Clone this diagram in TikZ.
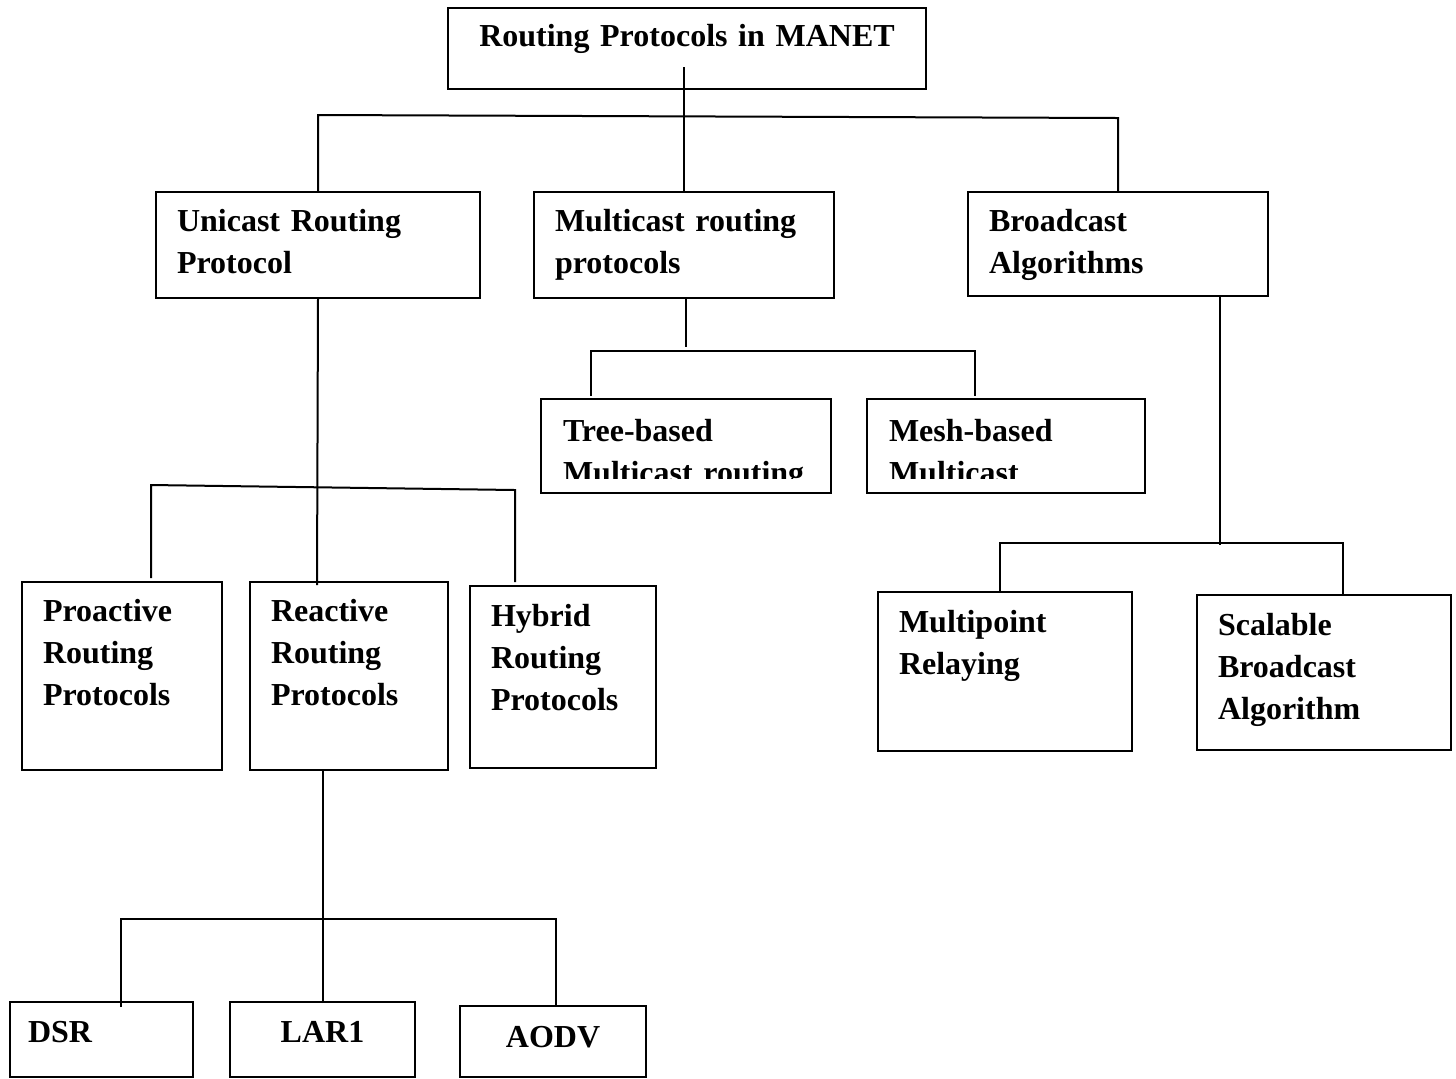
\documentclass[tikz,border=0pt]{standalone}
\usepackage{fontspec}
\setmainfont{Liberation Serif}
\usepackage{tikz}
\usetikzlibrary{calc}

\begin{document}
\begin{tikzpicture}[x=0.5pt,y=-0.5pt,
	box/.style={draw, line width=1pt, anchor=north west, inner xsep=10.5pt, inner ysep=0pt,
		align=left, text height=19.5pt, font=\fontsize{16}{21}\selectfont\bfseries},
	link/.style={line width=1pt}]
	\useasboundingbox (0,0) rectangle (1456,1078);

	% top level
	\node[box, align=center, text width=218pt, text height=19pt, text depth=21.5pt] (root) at (447,7) {Routing Protocols in MANET};
	\node[box, text width=141pt, text depth=33.5pt] (uni) at (155,191) {Unicast Routing\\Protocol};
	\node[box, text width=129pt, text depth=33.5pt] (multi) at (533,191) {Multicast routing\\protocols};
	\node[box, text width=129pt, text depth=32.5pt] (bcast) at (967,191) {Broadcast\\Algorithms};

	\draw [link] ([yshift=11.5pt]root.south -| multi.north) -- (multi.north);
	\draw [link] (uni.north) -- ($(uni.north)+(0,-76)$) -- ($(bcast.north)+(0,-73)$) -- (bcast.north);

	% multicast
	\begin{scope}
		\clip (530,390) rectangle (1150,478);
		\node[box, draw=none, text width=123pt, text height=20.5pt, text depth=25.5pt] (tree) at (541,399) {Tree-based\\Multicast routing};
		\node[box, draw=none, text width=117pt, text height=20.5pt, text depth=25.5pt] (mesh) at (867,399) {Mesh-based\\Multicast};
	\end{scope}
	\draw [link] (tree.north west) rectangle (tree.south east);
	\draw [link] (mesh.north west) rectangle (mesh.south east);

	\draw [link] ([xshift=1pt]multi.south) -- ++(0,48);
	\draw [link] ($(tree.north west)+(50,-3)$) -- ++(0,-45) -| ($(mesh.north west)+(108,-3)$);

	% unicast
	\node[box, text width=79pt, text depth=74.5pt] (pro) at (21,581) {Proactive\\Routing\\Protocols};
	\node[box, text width=78pt, text depth=74.5pt] (rea) at (249,581) {Reactive\\Routing\\Protocols};
	\node[box, text width=72pt, text height=20pt, text depth=71pt] (hyb) at (469,585) {Hybrid\\Routing\\Protocols};

	\draw [link] (uni.south) -- ($(rea.north west)+(68,4)$);
	\draw [link] ($(pro.north west)+(130,-3)$) -- ++(0,-93) -- ($(hyb.north west)+(46,-95)$) -- ($(hyb.north west)+(46,-3)$);

	% broadcast
	\node[box, text width=106pt, text height=20pt, text depth=59.5pt] (mpr) at (877,591) {Multipoint\\Relaying};
	\node[box, text width=106pt, text height=20pt, text depth=57.5pt] (sba) at (1196,594) {Scalable\\Broadcast\\Algorithm};

	\draw [link] ([xshift=51pt]bcast.south) -- ++(0,248);
	\draw [link] ($(mpr.north west)+(123,0)$) -- ++(0,-48) -| ($(sba.north west)+(147,0)$);

	% reactive
	\node[box, text width=73.5pt, inner xsep=9pt, text height=20pt, text depth=17.5pt] (dsr) at (9,1001) {DSR};
	\node[box, align=center, text width=71.5pt, text height=20pt, text depth=17.5pt] (lar) at (229,1001) {LAR1};
	\node[box, align=center, text width=72pt, text height=20.5pt, text depth=15pt] (aodv) at (459,1005) {AODV};

	\draw [link] ([yshift=-1pt]lar.north) -- (lar.north |- rea.south);
	\draw [link] ($(dsr.north west)+(112,6)$) -- ++(0,-88) -| ($(aodv.north)+(3,0)$);
\end{tikzpicture}
\end{document}
